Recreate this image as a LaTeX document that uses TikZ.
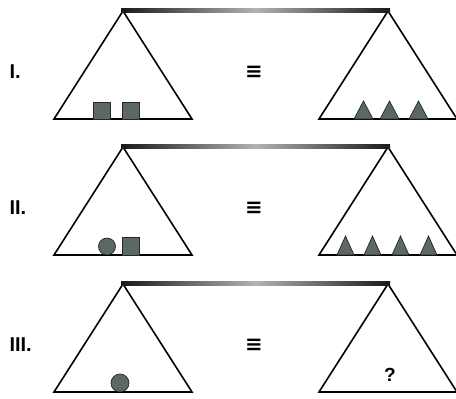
\documentclass[tikz,border=0pt]{standalone}
\usepackage{fontspec}
\setsansfont{Liberation Sans}
\newfontfamily\symfont{DejaVu Sans}
\usetikzlibrary{calc}
\definecolor{weightgray}{RGB}{92,104,98}

\begin{document}
\begin{tikzpicture}[
    x=1pt, y=-1pt,
    panstyle/.style={
        draw=black,
        line width=1.6pt,
        line join=miter
    },
    beamstyle/.style={
        left color=black!90,
        right color=black!90,
        middle color=black!30
    },
    weight/.style={
        draw=black!85,
        fill=weightgray,
        line width=0.7pt
    },
    rowlabel/.style={font=\sffamily\bfseries\fontsize{20}{20}\selectfont},
    eqsign/.style={font=\symfont\bfseries\fontsize{21}{21}\selectfont},
    font=\sffamily
]

\useasboundingbox (0,0) rectangle (456,399);

% Geometry parameters
\def\lx{123}    % left pivot
\def\rx{388}    % right pivot
\def\ph{108}    % pan height
\def\phw{69}    % half base width

% Macro: draw one balance (beam + two pans) with its row label
\newcommand{\drawbalance}[3]{%
  \coordinate (#2L) at (\lx,#1);
  \coordinate (#2R) at (\rx,#1);
  \coordinate (#2LB) at ($(#2L)+(0,\ph)$);
  \coordinate (#2RB) at ($(#2R)+(0,\ph)$);

  % pans
  \draw[panstyle] (#2L) -- ($(#2LB)+(-\phw,0)$) -- ($(#2LB)+(\phw,0)$) -- cycle;
  \draw[panstyle] (#2R) -- ($(#2RB)+(-\phw,0)$) -- ($(#2RB)+(\phw,0)$) -- cycle;

  % beam
  \shade[beamstyle] ($(#2L)+(-2,-3)$) rectangle ($(#2R)+(2,1)$);

  % row label and sign
  \node[rowlabel, anchor=west] (lbl#2) at (6,{#1+61}) {#3};
  \node[eqsign] (eq#2) at (254,{#1+61}) {≡};
}

% Row I
\drawbalance{11}{one}{I.}
\foreach \x in {93,122}
  \draw[weight] (\x,119) rectangle ++(17,-17);
\foreach \x in {354,380,409}
  \draw[weight] (\x,119) -- ++(19,0) -- ++(-9.5,-18) -- cycle;

% Row II
\drawbalance{147}{two}{II.}
\draw[weight] (107,246.5) circle (8.5);
\draw[weight] (122,255) rectangle ++(17,-18);
\foreach \x in {337,364,392,420}
  \draw[weight] (\x,255) -- ++(17,0) -- ++(-8.5,-19) -- cycle;

% Row III
\drawbalance{284}{three}{III.}
\draw[weight] (120,383) circle (9);
\node[font=\sffamily\bfseries\fontsize{19}{19}\selectfont] (query) at (390,375) {?};

\end{tikzpicture}
\end{document}
